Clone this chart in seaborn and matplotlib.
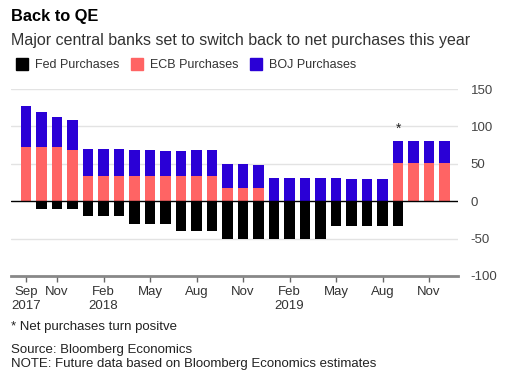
import numpy as np
import pandas as pd
import seaborn as sns
import matplotlib.pyplot as plt
from matplotlib.lines import Line2D

# ---- data (USD bn per month) ----
months = pd.date_range("2017-09-01", "2019-12-01", freq="MS").strftime("%Y-%m").tolist()

fed = [0, -10, -10, -10,
       -20, -20, -20, -30, -30, -30, -40, -40, -40, -50, -50, -50,
       -50, -50, -50, -50, -33, -33, -33, -33, -33, 0, 0, 0]
ecb = [72, 72, 72, 69,
       34, 34, 34, 34, 34, 34, 34, 34, 34, 18, 18, 18,
       0, 0, 0, 0, 0, 0, 0, 0, 51, 51, 51, 51]
boj = [55, 47, 41, 40,
       36, 36, 36, 35, 34, 32.5, 32.5, 34, 34, 32, 32, 31,
       31, 31, 31, 31, 31, 30, 30, 30, 29, 29, 29, 29]

tick_pos = [0, 2, 5, 8, 11, 14, 17, 20, 23, 26]
tick_labels = ["Sep\n2017", "Nov", "Feb\n2018", "May", "Aug", "Nov",
               "Feb\n2019", "May", "Aug", "Nov"]
y_ticks = [-100, -50, 0, 50, 100, 150]

FED_C = "#000000"
ECB_C = "#ff6464"
BOJ_C = "#2a00d6"

df = pd.DataFrame({"month": months, "fed": fed, "ecb": ecb, "boj": boj})
df["total"] = df["ecb"] + df["boj"]

sns.set_style("white")
plt.rcParams["font.family"] = ["Liberation Sans", "DejaVu Sans"]

fig = plt.figure(figsize=(5.11, 3.84), dpi=100)
ax = fig.add_axes([11 / 511, 1 - 276 / 384, 447 / 511, (276 - 89) / 384])

bw = 0.69
sns.barplot(data=df, x="month", y="total", order=months, color=BOJ_C,
            saturation=1, width=bw, ax=ax, linewidth=0)
sns.barplot(data=df, x="month", y="ecb", order=months, color=ECB_C,
            saturation=1, width=bw, ax=ax, linewidth=0)
sns.barplot(data=df, x="month", y="fed", order=months, color=FED_C,
            saturation=1, width=bw, ax=ax, linewidth=0)

ax.set_xlim(-0.97, 27.87)
ax.set_ylim(-100, 150)
ax.set_xlabel("")
ax.set_ylabel("")

# gridlines + zero line
for v in y_ticks:
    if v == 0:
        ax.axhline(0, color="black", lw=1.0, zorder=3)
    elif v > -100:
        ax.axhline(v, color="#e3e3e3", lw=1.0, zorder=0)

ax.yaxis.tick_right()
ax.set_yticks(y_ticks)
ax.set_yticklabels([str(v) for v in y_ticks])
ax.tick_params(axis="y", length=0, pad=9, labelsize=9.5, labelcolor="#444444")

ax.set_xticks(tick_pos)
ax.set_xticklabels(tick_labels, ha="center")
ax.tick_params(axis="x", bottom=True, direction="out", length=4, width=1,
               color="#666666", labelsize=9.5, labelcolor="#333333", pad=3)

for s in ["top", "left", "right"]:
    ax.spines[s].set_visible(False)
ax.spines["bottom"].set_color("#888888")
ax.spines["bottom"].set_linewidth(2)

# asterisk where net purchases turn positive
star_i = 24
ax.text(star_i, df["total"][star_i] + 8, "*", ha="center", va="bottom",
        fontsize=10, color="#222222")

# ---- titles, legend, notes ----
fig.text(11 / 511, 1 - 17 / 384, "Back to QE", fontsize=11.8, fontweight="bold",
         va="center", color="black")
fig.text(11 / 511, 1 - 40 / 384,
         "Major central banks set to switch back to net purchases this year",
         fontsize=11.5, va="center", color="#333333")

handles = [Line2D([], [], marker="s", ls="", markersize=9, color=c)
           for c in [FED_C, ECB_C, BOJ_C]]
fig.legend(handles, ["Fed Purchases", "ECB Purchases", "BOJ Purchases"],
           loc="center left", bbox_to_anchor=(4 / 511, 1 - 65 / 384), ncol=3,
           frameon=False, fontsize=9, handlelength=1.0, handletextpad=0.6,
           columnspacing=0.85, labelcolor="#333333")

fig.text(11 / 511, 1 - 327 / 384, "* Net purchases turn positve", fontsize=9.5,
         va="center", color="#222222")
fig.text(11 / 511, 1 - 350 / 384, "Source: Bloomberg Economics", fontsize=9.5,
         va="center", color="#222222")
fig.text(11 / 511, 1 - 364 / 384,
         "NOTE: Future data based on Bloomberg Economics estimates", fontsize=9.5,
         va="center", color="#222222")

fig.savefig("out.png", dpi=100)
